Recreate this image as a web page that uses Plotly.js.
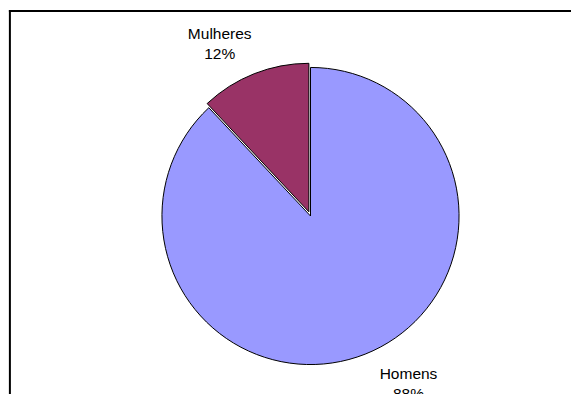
<!DOCTYPE html>
<html>
<head>
<meta charset="utf-8">
<script src="https://cdn.plot.ly/plotly-3.0.1.min.js"></script>
<style>html,body{margin:0;padding:0;background:#fff;overflow:hidden;}#chart{width:571px;height:394px;}</style>
</head>
<body>
<div id="chart"></div>
<script>
const labels = ["Homens", "Mulheres"];
const values = [88, 12];
const colors = ["#9999FF", "#993366"];
const pulls = [0, 0.03];

const W = 571, H = 394;
const m = {l: 142.5, r: 92.5, t: 48, b: 10};
const pw = W - m.l - m.r, ph = H - m.t - m.b;
function px2x(px){ return (px - m.l) / pw; }
function py2y(py){ return (H - m.b - py) / ph; }

const font = {family: "Liberation Sans, Arial, sans-serif", size: 15.5, color: "#000"};
const clear = ["rgba(0,0,0,0)", "rgba(0,0,0,0)"];
const tmpl = "%{label}<br>%{percent:.0%}";

const pieTrace = {
  type: "pie",
  labels: labels,
  values: values,
  sort: false,
  direction: "clockwise",
  rotation: 0,
  pull: pulls,
  domain: {x: [0.0432, 0.9568], y: [0.0446, 0.9554]},
  marker: {colors: colors, line: {color: "#000000", width: 1}},
  textinfo: "none",
  hoverinfo: "none",
  showlegend: false
};

// label carrier for Homens
const labelTraceH = {
  type: "pie",
  labels: labels,
  values: values,
  sort: false,
  direction: "clockwise",
  rotation: 0,
  pull: pulls,
  domain: {x: [0, 1], y: [0, 1]},
  marker: {colors: clear, line: {width: 0}},
  textposition: "outside",
  texttemplate: [tmpl, ""],
  textfont: font,
  hoverinfo: "none",
  showlegend: false
};

// label carrier for Mulheres
const labelTraceM = {
  type: "pie",
  labels: labels,
  values: values,
  sort: false,
  direction: "clockwise",
  rotation: 4,
  pull: pulls,
  domain: {x: [0.0126, 0.9874], y: [0.0126, 0.9874]},
  marker: {colors: clear, line: {width: 0}},
  textposition: "outside",
  texttemplate: ["", tmpl],
  textfont: font,
  hoverinfo: "none",
  showlegend: false
};

const layout = {
  width: W, height: H,
  margin: m,
  paper_bgcolor: "#ffffff",
  plot_bgcolor: "#ffffff",
  font: {family: "Liberation Sans, Arial, sans-serif"},
  shapes: [
    {type: "line", xref: "paper", yref: "paper", x0: px2x(9), x1: px2x(9), y0: py2y(10), y1: py2y(400), line: {color: "#000", width: 2}},
    {type: "line", xref: "paper", yref: "paper", x0: px2x(8), x1: px2x(580), y0: py2y(11), y1: py2y(11), line: {color: "#000", width: 2}}
  ]
};

Plotly.newPlot("chart", [pieTrace, labelTraceH, labelTraceM], layout, {staticPlot: true, displayModeBar: false});
</script>
</body>
</html>
